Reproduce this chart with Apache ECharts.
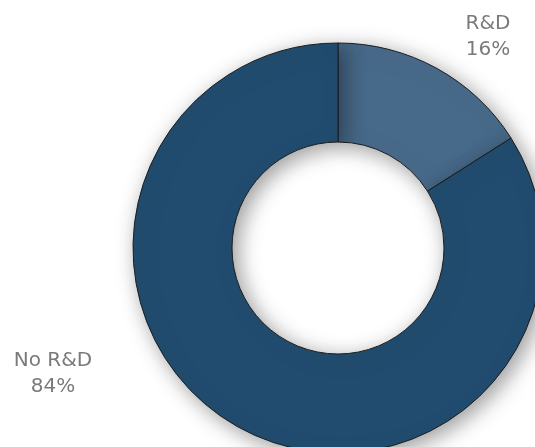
<!DOCTYPE html>
<html>
<head>
<meta charset="utf-8">
<script src="https://cdn.jsdelivr.net/npm/echarts@6/dist/echarts.min.js"></script>
<style>
  html, body { margin: 0; padding: 0; background: #fff; }
  #chart { width: 535px; height: 447px; }
</style>
</head>
<body>
<div id="chart"></div>
<script>
// 数据
const categories = ['R&D', 'No R&D']
const shares = [16, 84]
const colors = ['#486a8a', '#214c6f']
// label anchor points (text block centres)
const labelSpots = [[488, 37], [53, 374]]

const chart = echarts.init(document.getElementById('chart'))
const option = {
  animation: false,
  series: [
    {
      type: 'pie',
      center: [338, 248],
      radius: [106, 205],
      startAngle: 90,
      clockwise: true,
      data: categories.map((name, i) => ({
        name,
        value: shares[i],
        itemStyle: { color: colors[i] }
      })),
      itemStyle: {
        borderColor: '#1c1c1c',
        borderWidth: 1,
        shadowBlur: 22,
        shadowColor: 'rgba(0, 0, 0, 0.4)',
        shadowOffsetX: 5,
        shadowOffsetY: 5
      },
      label: {
        show: true,
        formatter: '{b}\n{c}%',
        color: '#7a7a7a',
        fontFamily: 'DejaVu Sans',
        fontSize: 20,
        lineHeight: 26,
        align: 'center'
      },
      labelLine: { show: false },
      labelLayout: function (params) {
        const p = labelSpots[params.dataIndex]
        return { x: p[0], y: p[1], align: 'center', verticalAlign: 'middle' }
      }
    }
  ]
}
chart.setOption(option)
</script>
</body>
</html>
